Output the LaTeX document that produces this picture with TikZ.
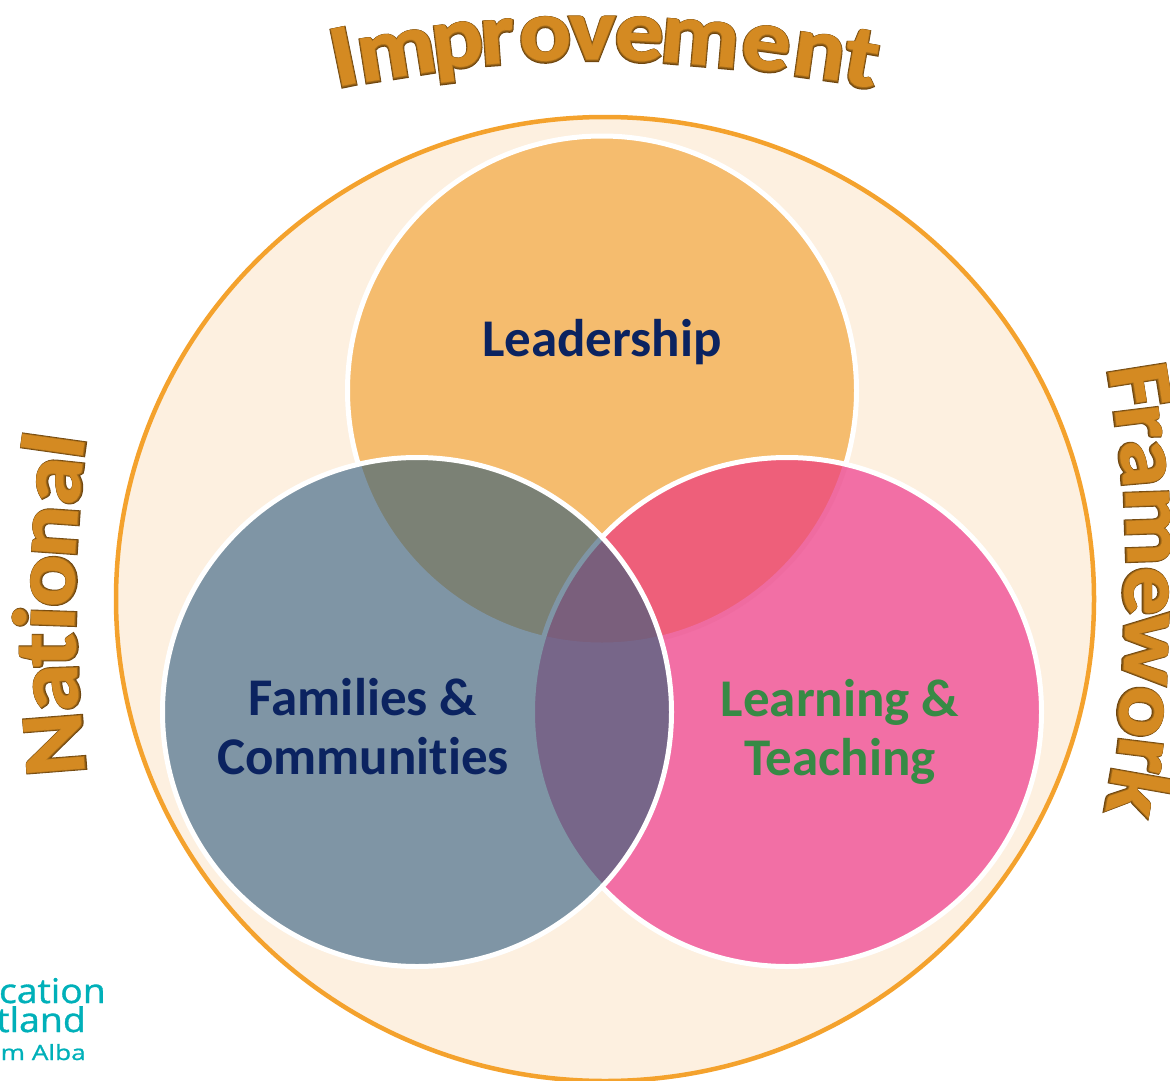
\documentclass[tikz,border=0pt]{standalone}
\usepackage{fontspec}
\setmainfont[Ligatures=NoCommon]{Carlito}
\newfontfamily\wfa[FakeBold=4.5,FakeStretch=1.1]{Carlito Bold}
\newfontfamily\wfb[FakeBold=3.2,FakeStretch=1.1]{Carlito Bold}
\newfontfamily\wfc[FakeBold=2,FakeStretch=1.1]{Carlito Bold}
\newfontfamily\wfd[FakeBold=0.8,FakeStretch=1.1]{Carlito Bold}
\newfontfamily\logofont[FakeBold=1,FakeStretch=1.1]{Open Sans}
\newfontfamily\logosmall[FakeBold=1,FakeStretch=1.25]{Open Sans}
\definecolor{ringc}{HTML}{F4A22D}
\definecolor{creamc}{HTML}{FDF0E0}
\definecolor{leadc}{HTML}{F5BC6E}
\definecolor{learnc}{HTML}{F26FA5}
\definecolor{famc}{HTML}{7F95A5}
\definecolor{leadlearn}{HTML}{EE5F7A}
\definecolor{leadlearnband}{HTML}{EF6BA0}
\definecolor{leadfam}{HTML}{7B8175}
\definecolor{learnfam}{HTML}{776689}
\definecolor{triple}{HTML}{7A5F7C}
\definecolor{navyc}{HTML}{0B2360}
\definecolor{greenc}{HTML}{378A45}
\definecolor{tealc}{HTML}{00B0B9}
\definecolor{wone}{HTML}{6E4610}
\definecolor{wtwo}{HTML}{8E5C15}
\definecolor{wthree}{HTML}{B0731B}
\definecolor{wfour}{HTML}{D48A22}
\tikzset{
  lbl/.style={font=\fontsize{53}{59}\selectfont\bfseries, align=center, text=navyc},
  logotxt/.style={text=tealc, anchor=base east, inner sep=0pt},
  wglyph/.style={anchor=base,inner sep=0pt},
  venn/.style={line width=5pt},
}
\newcommand{\wl}[4]{%
  \begin{scope}[shift={(#1,#2)},rotate=#3,transform shape]
  \node[wglyph,text=wone,font=\fontsize{88}{88}\wfa] at (0,1.2) {#4};
  \node[wglyph,text=wtwo,font=\fontsize{88}{88}\wfb] at (0,0.7) {#4};
  \node[wglyph,text=wthree,font=\fontsize{88}{88}\wfc] at (0,0.3) {#4};
  \node[wglyph,text=wfour,font=\fontsize{88}{88}\wfd] at (0,0) {#4};
  \end{scope}
}
\begin{document}
\begin{tikzpicture}[x=1pt,y=-1pt]
\useasboundingbox (0,0) rectangle (1170,1081);
\clip (0,0) rectangle (1170,1081);
\coordinate (O) at (605,599);
\coordinate (A) at (602,390.5);
\coordinate (B) at (417,712);
\coordinate (C) at (787,712);
\def\rr{254.5}
% outer ring
\fill[creamc] (O) ellipse[x radius=489,y radius=482];
\draw[ringc,line width=4.5pt] (O) ellipse[x radius=489,y radius=482];
% Leadership
\fill[leadc] (A) circle[radius=\rr];
\draw[white,venn] (A) circle[radius=\rr];
% Learning
\fill[learnc] (C) circle[radius=\rr];
\begin{scope}
\clip (C) circle[radius=\rr];
\fill[leadlearn] (A) circle[radius=\rr];
\draw[leadlearnband,venn] (A) circle[radius=\rr];
\end{scope}
\draw[white,venn] (C) circle[radius=\rr];
% Families
\fill[famc] (B) circle[radius=\rr];
\begin{scope}
\clip (B) circle[radius=\rr];
\fill[leadfam] (A) circle[radius=\rr];
\draw[famc,venn] (A) circle[radius=\rr];
\fill[learnfam] (C) circle[radius=\rr];
\begin{scope}
\clip (C) circle[radius=\rr];
\fill[triple] (A) circle[radius=\rr];
\draw[learnfam,venn] (A) circle[radius=\rr];
\end{scope}
\draw[famc,venn] (C) circle[radius=\rr];
\end{scope}
\draw[white,venn] (B) circle[radius=\rr];
% labels
\node[lbl] (lead) at (602,342) {Leadership};
\node[lbl] (fam) at (363,727) {Families \&\\Communities};
\node[lbl,text=greenc] (learn) at (840,732) {Learning \&\\Teaching};
% Improvement
\wl{349}{84}{11.6}{I}
\wl{400}{76}{9}{m}
\wl{460}{66}{7}{p}
\wl{499}{63}{4}{r}
\wl{546}{60}{2}{o}
\wl{592}{59}{0}{v}
\wl{638}{60}{-3}{e}
\wl{698}{64}{-5}{m}
\wl{763}{69}{-8}{e}
\wl{816}{77}{-8}{n}
\wl{857}{85}{-10}{t}
% National
\wl{82}{742}{94.5}{N}
\wl{77}{687}{92}{a}
\wl{75}{650}{90}{t}
\wl{74}{619}{88}{i}
\wl{74}{582}{87}{o}
\wl{76}{533}{86}{n}
\wl{80}{483}{84}{a}
\wl{83}{449}{82}{l}
% Framework
\wl{1112}{390}{-81}{F}
\wl{1117}{425}{-83}{r}
\wl{1122}{465}{-85}{a}
\wl{1127}{527}{-88}{m}
\wl{1125}{591}{-90}{e}
\wl{1125}{648}{-92}{w}
\wl{1120}{710}{-95}{o}
\wl{1119}{752}{-97}{r}
\wl{1110}{788}{-100}{k}
% logo fragment
\node[logotxt,font=\fontsize{34}{34}\logofont] (logoa) at (106,1003) {cation};
\node[logotxt,font=\fontsize{34}{34}\logofont] (logob) at (86,1032) {tland};
\node[logotxt,font=\fontsize{21}{21}\logosmall] (logoc) at (86,1060) {m Alba};
\end{tikzpicture}
\end{document}
